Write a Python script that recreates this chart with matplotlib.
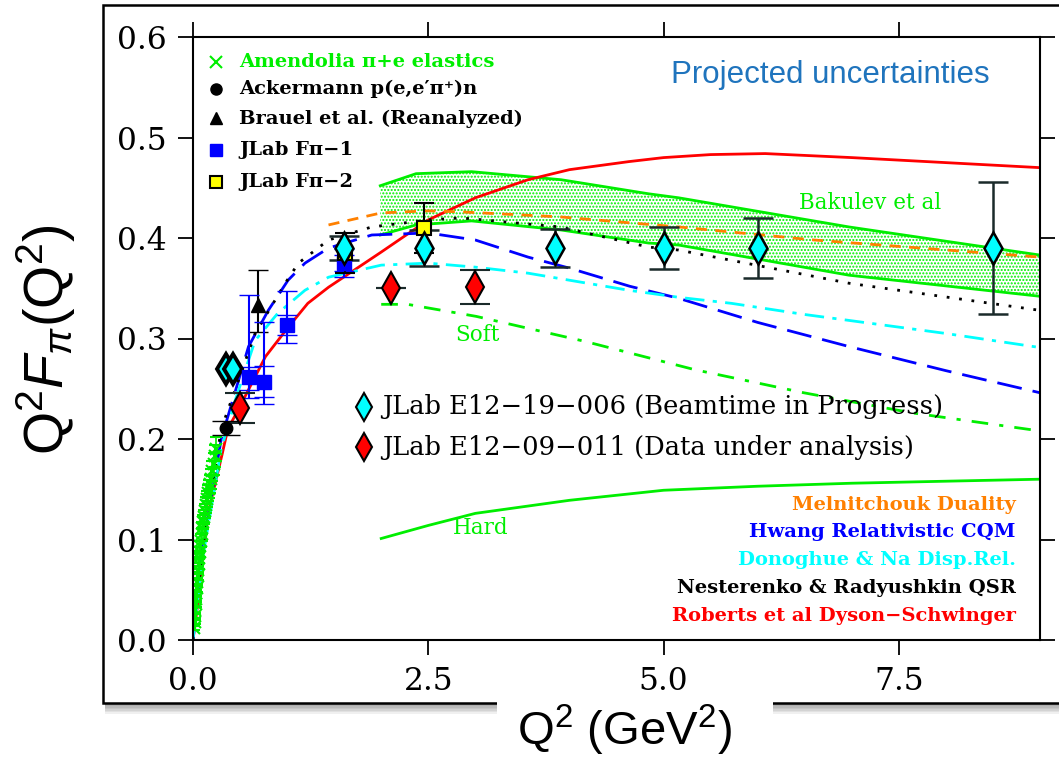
"""
Pion form factor Q^2 F_pi(Q^2): data, projections and model curves
"""

import numpy as np
import matplotlib.pyplot as plt
from matplotlib.patches import Rectangle

plt.rcParams["mathtext.fontset"] = "custom"
plt.rcParams["mathtext.rm"] = "Liberation Sans"
plt.rcParams["mathtext.it"] = "Liberation Sans:italic"

# ---- data points ----
# Amendolia pi+e elastics
AM_X = [0.012, 0.016, 0.020, 0.024, 0.028, 0.032, 0.036, 0.040, 0.045, 0.050, 0.055,
        0.060, 0.066, 0.072, 0.078, 0.085, 0.092, 0.100, 0.108, 0.117, 0.126, 0.136,
        0.146, 0.157, 0.168, 0.180, 0.192, 0.205, 0.218, 0.232, 0.246]
AM_Y = [0.012, 0.018, 0.024, 0.030, 0.036, 0.041, 0.047, 0.052, 0.058, 0.064, 0.070,
        0.076, 0.082, 0.088, 0.094, 0.099, 0.105, 0.111, 0.117, 0.122, 0.128, 0.134,
        0.140, 0.146, 0.150, 0.155, 0.160, 0.168, 0.175, 0.183, 0.190]
AM_E = [0.002, 0.002, 0.002, 0.003, 0.003, 0.003, 0.003, 0.004, 0.004, 0.004, 0.004,
        0.005, 0.005, 0.005, 0.005, 0.006, 0.006, 0.006, 0.007, 0.007, 0.007, 0.008,
        0.008, 0.008, 0.009, 0.009, 0.010, 0.010, 0.011, 0.011, 0.012]

# Ackermann p(e,e'pi+)n
ACK_X = [0.35]
ACK_Y = [0.211]
ACK_E = [0.007]

# Brauel et al. (reanalyzed)
BR_X = [0.69]
BR_Y = [0.333]
BR_ELO = [0.027]
BR_EHI = [0.035]

# JLab Fpi-1 (outer = total, inner = stat)
F1_X = [0.60, 0.75, 1.00, 1.60]
F1_Y = [0.262, 0.257, 0.313, 0.375]
F1_ELO = [0.021, 0.022, 0.017, 0.014]
F1_EHI = [0.081, 0.059, 0.034, 0.014]
F1_ILO = [0.013, 0.015, 0.010, 0.008]
F1_IHI = [0.010, 0.016, 0.010, 0.008]

# JLab Fpi-2
F2_X = [1.62, 2.45]
F2_Y = [0.385, 0.410]
F2_E = [0.020, 0.025]

# JLab E12-19-006 projections
P19_X = [1.60, 2.45, 3.85, 5.00, 6.00, 8.50]
P19_Y = [0.390, 0.390, 0.390, 0.390, 0.390, 0.390]
P19_E = [0.012, 0.018, 0.019, 0.021, 0.030, 0.066]
P19_LOW_X = [0.35, 0.42]
P19_LOW_Y = [0.270, 0.270]

# JLab E12-09-011
P09_X = [0.50, 2.10, 3.00]
P09_Y = [0.231, 0.350, 0.351]
P09_E = [0.015, 0.0, 0.017]

# ---- model curves ----
DSE_X = [0.0, 0.05, 0.10, 0.17, 0.31, 0.37, 0.48, 0.77, 1.01, 1.22, 1.44, 2.00, 2.50,
         3.00, 3.56, 4.00, 4.63, 5.00, 5.50, 6.08, 7.00, 8.00, 9.00]
DSE_Y = [0.0, 0.035, 0.080, 0.130, 0.185, 0.210, 0.229, 0.282, 0.311, 0.335, 0.351,
         0.386, 0.418, 0.440, 0.458, 0.468, 0.476, 0.480, 0.483, 0.484, 0.480, 0.475, 0.470]

HW_X = [0.0, 0.10, 0.30, 0.59, 0.80, 1.01, 1.19, 1.44, 1.90, 2.50, 3.00, 3.56, 4.00,
        4.64, 5.16, 6.00, 6.97, 8.00, 9.00]
HW_Y = [0.0, 0.090, 0.200, 0.292, 0.328, 0.358, 0.375, 0.390, 0.403, 0.405, 0.398,
        0.381, 0.370, 0.352, 0.340, 0.316, 0.292, 0.268, 0.246]

DN_X = [0.0, 0.10, 0.30, 0.45, 0.66, 0.90, 1.19, 1.44, 2.00, 2.50, 3.00, 3.56, 4.00,
        4.63, 5.16, 5.72, 6.49, 6.97, 8.00, 9.00]
DN_Y = [0.0, 0.080, 0.190, 0.239, 0.298, 0.325, 0.348, 0.361, 0.373, 0.375, 0.371,
        0.365, 0.358, 0.348, 0.341, 0.335, 0.324, 0.318, 0.305, 0.291]

ML_X = [1.44, 2.00, 2.50, 2.85, 3.90, 5.16, 6.60, 9.00]
ML_Y = [0.413, 0.425, 0.427, 0.426, 0.421, 0.411, 0.398, 0.381]

NR_X = [0.0, 0.10, 0.30, 0.66, 0.98, 1.12, 1.44, 1.90, 2.50, 2.85, 3.90, 4.84, 5.16,
        6.97, 9.00]
NR_Y = [0.0, 0.090, 0.210, 0.305, 0.355, 0.375, 0.398, 0.411, 0.418, 0.420, 0.411,
        0.391, 0.388, 0.355, 0.328]

BK_X = [1.99, 2.37, 2.96, 3.91, 4.84, 5.16, 6.97, 9.00]
BK_UP = [0.452, 0.464, 0.466, 0.458, 0.444, 0.440, 0.411, 0.383]
BK_LO = [0.403, 0.413, 0.417, 0.408, 0.395, 0.393, 0.363, 0.342]

SOFT_X = [2.00, 2.28, 3.01, 4.17, 5.33, 6.49, 7.64, 9.00]
SOFT_Y = [0.334, 0.334, 0.322, 0.297, 0.269, 0.246, 0.226, 0.208]

HARD_X = [2.0, 2.5, 3.0, 4.0, 5.0, 6.0, 7.0, 8.0, 9.0]
HARD_Y = [0.101, 0.114, 0.126, 0.139, 0.149, 0.153, 0.156, 0.158, 0.160]

GREEN = "#00ee00"
SERIF = "DejaVu Serif"

W, H = 1059, 759
fig = plt.figure(figsize=(W / 100, H / 100), dpi=100)

# outer frame with a soft shadow
for i in range(8):
    fig.patches.append(Rectangle((103 / W + 0.002, 1 - (703 + i * 1.5) / H), 1.0, (698 + i * 1.5) / H - 0.01,
                                 transform=fig.transFigure, facecolor="black",
                                 alpha=0.06, edgecolor="none", zorder=0))
fig.patches.append(Rectangle((103 / W, 1 - 703 / H), 1.0, 698 / H, transform=fig.transFigure,
                             facecolor="white", edgecolor="black", lw=1.8, zorder=0.5))

ax = fig.add_axes([193 / W, 1 - 640 / H, 847 / W, 603 / H])
ax.set_zorder(1)
ax.set_xlim(0, 9)
ax.set_ylim(0, 0.6)
ax.set_facecolor("none")

# Bakulev band
ax.fill_between(BK_X, BK_LO, BK_UP, facecolor="none", edgecolor=GREEN, hatch=".....", lw=0)
ax.plot(BK_X, BK_UP, color=GREEN, lw=2)
ax.plot(BK_X, BK_LO, color=GREEN, lw=2)
ax.plot(SOFT_X, SOFT_Y, color=GREEN, lw=2, dashes=(6, 4, 1.5, 4))
ax.plot(HARD_X, HARD_Y, color=GREEN, lw=2)

# model curves
ax.plot(DSE_X, DSE_Y, color="red", lw=2)
ax.plot(HW_X, HW_Y, color="#0000ff", lw=2, dashes=(9, 4))
ax.plot(DN_X, DN_Y, color="cyan", lw=2, dashes=(7, 3, 1.5, 3))
ax.plot(ML_X, ML_Y, color="#ff8000", lw=2, dashes=(4, 3))
ax.plot(NR_X, NR_Y, color="black", lw=2, dashes=(1, 3.5))

# data
ax.errorbar(AM_X, AM_Y, yerr=AM_E, fmt="x", color=GREEN, ms=8, mew=1.5, capsize=4, elinewidth=1.2)
ax.errorbar(ACK_X, ACK_Y, yerr=ACK_E, fmt="o", color="black", ms=9, capsize=10, elinewidth=1.5)
ax.errorbar(BR_X, BR_Y, yerr=[BR_ELO, BR_EHI], fmt="^", color="black", ms=10, capsize=7, elinewidth=1.5)
ax.errorbar(F1_X, F1_Y, yerr=[F1_ELO, F1_EHI], fmt="none", ecolor="#0000ff", capsize=7, elinewidth=1.5)
ax.errorbar(F1_X, F1_Y, yerr=[F1_ILO, F1_IHI], fmt="s", color="#0000ff", ms=10, capsize=7, elinewidth=1.5)
ax.errorbar(F2_X, F2_Y, yerr=F2_E, fmt="s", mfc="yellow", mec="black", mew=1.5, ms=10,
            ecolor="black", capsize=7, elinewidth=1.5)
ax.errorbar(P19_X, P19_Y, yerr=P19_E, fmt="d", mfc="cyan", mec="black", mew=1.8, ms=16,
            ecolor="#1a2a2a", capsize=11, elinewidth=1.8, capthick=1.8)
ax.plot(P19_LOW_X, P19_LOW_Y, "d", mfc="cyan", mec="black", mew=2.8, ms=15)
ax.errorbar(P09_X, P09_Y, yerr=P09_E, fmt="d", mfc="red", mec="black", mew=1.5, ms=16,
            ecolor="#1a2a2a", capsize=11, elinewidth=1.5, capthick=1.5)

# upper left legend
leg_y = [0.575, 0.548, 0.519, 0.488, 0.456]
ax.plot(0.245, leg_y[0], "x", color=GREEN, ms=9, mew=1.5)
ax.plot(0.245, leg_y[1], "o", color="black", ms=8)
ax.plot(0.245, leg_y[2], "^", color="black", ms=9)
ax.plot(0.245, leg_y[3], "s", color="#0000ff", ms=9)
ax.plot(0.245, leg_y[4], "s", mfc="yellow", mec="black", mew=1.5, ms=9)
leg_txt = ["Amendolia π+e elastics", "Ackermann p(e,e′π⁺)n", "Brauel et al. (Reanalyzed)",
           "JLab Fπ−1", "JLab Fπ−2"]
leg_col = [GREEN, "black", "black", "black", "black"]
for t, c, y in zip(leg_txt, leg_col, leg_y):
    ax.text(0.49, y, t, color=c, fontsize=14, fontweight="bold", family=SERIF, va="center")

# projections legend
ax.plot(1.82, 0.232, "d", mfc="cyan", mec="black", mew=1.5, ms=14)
ax.plot(1.82, 0.192, "d", mfc="red", mec="black", mew=1.5, ms=14)
ax.text(2.01, 0.232, "JLab E12−19−006 (Beamtime in Progress)", fontsize=18.5, family=SERIF, va="center")
ax.text(2.01, 0.192, "JLab E12−09−011 (Data under analysis)", fontsize=18.5, family=SERIF, va="center")

# model legend
mod_txt = ["Melnitchouk Duality", "Hwang Relativistic CQM", "Donoghue & Na Disp.Rel.",
           "Nesterenko & Radyushkin QSR", "Roberts et al Dyson−Schwinger"]
mod_col = ["#ff8000", "#0000ff", "cyan", "black", "red"]
mod_y = [0.134, 0.107, 0.080, 0.052, 0.024]
for t, c, y in zip(mod_txt, mod_col, mod_y):
    ax.text(8.74, y, t, color=c, fontsize=14, fontweight="bold", family=SERIF, va="center", ha="right")

ax.text(7.19, 0.435, "Bakulev et al", color=GREEN, fontsize=15.5, family=SERIF, ha="center", va="center")
ax.text(3.02, 0.303, "Soft", color=GREEN, fontsize=15.5, family=SERIF, ha="center", va="center")
ax.text(3.06, 0.111, "Hard", color=GREEN, fontsize=15.5, family=SERIF, ha="center", va="center")
ax.text(6.77, 0.562, "Projected uncertainties", color="#1f74bd", fontsize=22.5,
        family="Liberation Sans", ha="center", va="center")

ax.set_xticks([0.0, 2.5, 5.0, 7.5])
ax.set_yticks([0.0, 0.1, 0.2, 0.3, 0.4, 0.5, 0.6])
ax.xaxis.set_major_formatter(plt.FormatStrFormatter("%.1f"))
ax.yaxis.set_major_formatter(plt.FormatStrFormatter("%.1f"))
ax.tick_params(direction="out", length=11, width=1.3, top=True, right=True, pad=8)
for lab in ax.get_xticklabels() + ax.get_yticklabels():
    lab.set_fontsize(22.5)
    lab.set_family(SERIF)
for s in ax.spines.values():
    s.set_linewidth(1.5)

# axis titles (outside the frame, x title on a white patch)
fig.patches.append(Rectangle((497 / W, 0), 276 / W, 1 - 699 / H, transform=fig.transFigure,
                             facecolor="white", edgecolor="none", zorder=2))
fig.text(625 / W, 1 - 730 / H, r"Q$^2$ (GeV$^2$)", fontsize=34, family="Liberation Sans",
         ha="center", va="center", zorder=3)
fig.text(46 / W, 1 - 340 / H, r"Q$^2$$F_\pi$(Q$^2$)", fontsize=40, family="Liberation Sans",
         ha="center", va="center", rotation=90)

fig.savefig("out.png", dpi=100)
